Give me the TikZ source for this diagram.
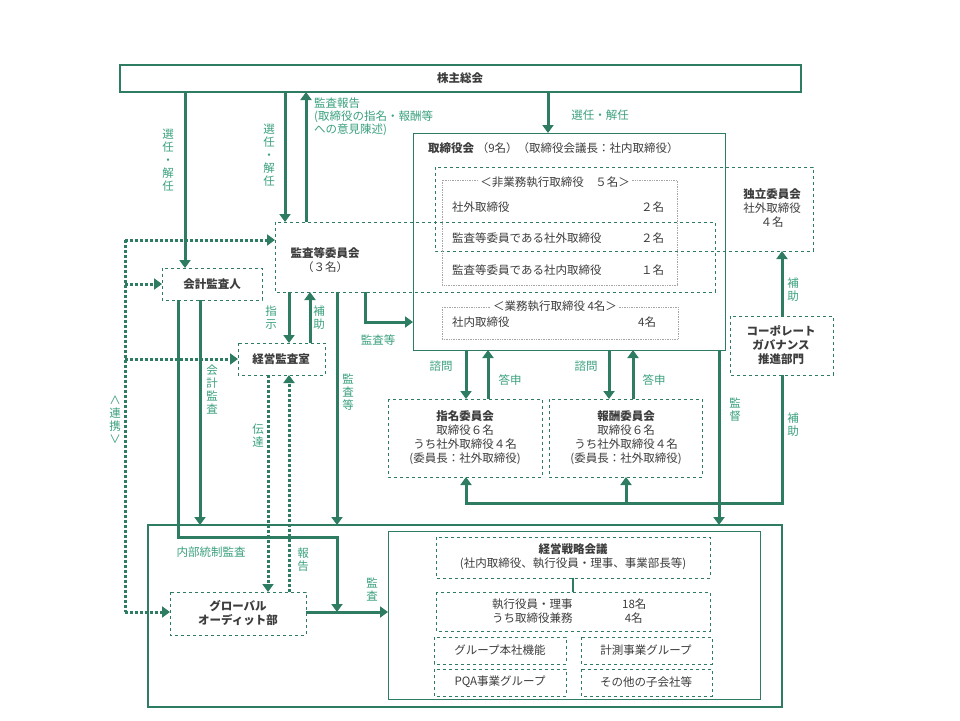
\documentclass[tikz,border=0pt]{standalone}
\usepackage{fontspec}
\setmainfont{Noto Sans CJK JP}
\usetikzlibrary{arrows.meta}
\definecolor{gl}{HTML}{2E7D62}
\definecolor{gt}{HTML}{3AA07E}
\definecolor{tx}{HTML}{3C3C3C}
\tikzset{
 solidbox/.style={draw=gl,line width=1pt},
 thickbox/.style={draw=gl,line width=2pt},
 dbox/.style={draw=gl,dashed,line width=0.7pt},
 dotbox/.style={draw=gray!70,densely dotted,line width=0.7pt},
 arr/.style={draw=gl,line width=3pt,-{Triangle[length=8pt,width=11pt]}},
 ln/.style={draw=gl,line width=3pt},
 darr/.style={draw=gl,line width=3pt,dotted,-{Triangle[length=8pt,width=11pt]}},
 dln/.style={draw=gl,line width=3pt,dotted},
 lab/.style={text=gt,font=\fontsize{11.5}{13}\selectfont,align=center,inner sep=0pt},
 txt/.style={text=tx,font=\fontsize{11.5}{14}\selectfont,align=center,inner sep=0pt},
 btxt/.style={text=tx,font=\fontsize{11.5}{14}\selectfont\bfseries,align=center,inner sep=0pt},
}
\begin{document}
\begin{tikzpicture}[x=1pt,y=-1pt]
\useasboundingbox (0,0) rectangle (960,720);
% boxes
\draw[thickbox] (120,65) rectangle (801,92);
\node[btxt] (sh) at (460,78) {株主総会};
\draw[solidbox] (413,133) rectangle (725,350);
\node[txt,anchor=west] (bd) at (428,148) {\textbf{取締役会}\ （9名）（取締役会議長：社内取締役）};
\draw[dbox] (275,222) rectangle (715,292);
\node[txt] (ac) at (325,260) {\textbf{監査等委員会}\\（３名）};
\draw[dbox] (435,167) rectangle (813,251);
\node[txt] (ind) at (772,208) {\textbf{独立委員会}\\社外取締役\\４名};
\draw[dotbox] (442,180) rectangle (677,285);
\node[txt,fill=white,inner sep=2pt] (ne) at (555,182) {＜非業務執行取締役　５名＞};
\node[txt,anchor=west] (r1) at (452,207) {社外取締役};
\node[txt,anchor=west] (r2) at (452,238) {監査等委員である社外取締役};
\node[txt,anchor=west] (r3) at (452,270) {監査等委員である社内取締役};
\node[txt,anchor=west] at (641,207) {２名};
\node[txt,anchor=west] at (641,238) {２名};
\node[txt,anchor=west] at (641,270) {１名};
\draw[dotbox] (442,307) rectangle (678,339);
\node[txt,fill=white,inner sep=2pt] (ex) at (555,306) {＜業務執行取締役\ 4名＞};
\node[txt,anchor=west] at (452,322) {社内取締役};
\node[txt,anchor=west] at (638,322) {4名};
\draw[dbox] (162,268) rectangle (262,300);
\node[btxt] (aud) at (212,284) {会計監査人};
\draw[dbox] (238,343) rectangle (325,375);
\node[btxt] (ia) at (281,359) {経営監査室};
\draw[dbox] (730,316) rectangle (833,375);
\node[btxt] (cg) at (781,345) {コーポレート\\ガバナンス\\推進部門};
\draw[dbox] (388,399) rectangle (542,477);
\node[txt] (nom) at (465,438) {\textbf{指名委員会}\\取締役６名\\うち社外取締役４名\\(委員長：社外取締役)};
\draw[dbox] (549,399) rectangle (702,477);
\node[txt] (rem) at (626,438) {\textbf{報酬委員会}\\取締役６名\\うち社外取締役４名\\(委員長：社外取締役)};
\draw[thickbox] (148,525) rectangle (782,707);
\draw[solidbox] (388,531) rectangle (760,699);
\draw[dbox] (436,537) rectangle (710,578);
\node[txt] (ms) at (573,557) {\textbf{経営戦略会議}\\(社内取締役、執行役員・理事、事業部長等)};
\draw[dbox] (436,592) rectangle (710,631);
\node[txt,align=left,anchor=west] at (492,611) {執行役員・理事\\うち取締役兼務};
\node[txt,align=left,anchor=west] at (622,611) {18名\\\ 4名};
\draw[dbox] (434,637) rectangle (566,664); \node[txt] at (500,650) {グループ本社機能};
\draw[dbox] (581,637) rectangle (712,664); \node[txt] at (646,650) {計測事業グループ};
\draw[dbox] (434,669) rectangle (566,696); \node[txt] at (500,682) {PQA事業グループ};
\draw[dbox] (581,669) rectangle (712,696); \node[txt] at (646,682) {その他の子会社等};
\draw[dbox] (170,592) rectangle (306,635);
\node[btxt] (ga) at (238,613) {グローバル\\オーディット部};
\draw[ln,line width=2pt] (573,578) -- (573,592);
% arrows
\draw[arr] (185,92) -- (185,268);
\node[lab] at (168,160) {選\\任\\・\\解\\任};
\draw[arr] (285,92) -- (285,222);
\node[lab] at (269,155) {選\\任\\・\\解\\任};
\draw[arr] (306,222) -- (306,92);
\node[lab,align=left,anchor=north west] at (314,98) {監査報告\\(取締役の指名・報酬等\\への意見陳述)};
\draw[arr] (548,92) -- (548,133);
\node[lab] at (600,115) {選任・解任};
\draw[arr] (365,292) -- (365,322) -- (413,322);
\node[lab] at (378,340) {監査等};
\draw[arr] (289,292) -- (289,343);
\draw[arr] (310,343) -- (310,292);
\node[lab] at (271,318) {指\\示};
\node[lab] at (319,318) {補\\助};
\draw[arr] (337,292) -- (337,525);
\node[lab] at (348,392) {監\\査\\等};
\draw[arr] (200,300) -- (200,525);
\node[lab] at (212,390) {会\\計\\監\\査};
\draw[arr] (178,300) -- (178,537) -- (337,537) -- (337,612);
\draw[arr] (306,612) -- (388,612);
\node[lab] at (372,590) {監\\査};
\node[lab] at (211,552) {内部統制監査};
\draw[darr] (268,375) -- (268,592);
\node[lab] at (258,436) {伝\\達};
\draw[darr] (289,592) -- (289,375);
\node[lab] at (303,560) {報\\告};
\draw[dln] (125,240) -- (125,612);
\draw[darr] (125,240) -- (275,240);
\draw[darr] (125,284) -- (162,284);
\draw[darr] (125,359) -- (238,359);
\draw[darr] (125,612) -- (170,612);
\node[lab] at (115,420) {∧\\連\\携\\∨};
\draw[arr] (466,350) -- (466,399);
\draw[arr] (488,399) -- (488,350);
\node[lab] at (441,366) {諮問};
\node[lab] at (510,380) {答申};
\draw[arr] (609,350) -- (609,399);
\draw[arr] (633,399) -- (633,350);
\node[lab] at (586,366) {諮問};
\node[lab] at (654,380) {答申};
\draw[arr] (719,350) -- (719,525);
\node[lab] at (735,410) {監\\督};
\draw[arr] (782,375) -- (782,503) -- (466,503) -- (466,477);
\draw[arr] (626,503) -- (626,477);
\node[lab] at (793,425) {補\\助};
\draw[arr] (782,316) -- (782,251);
\node[lab] at (793,290) {補\\助};
\end{tikzpicture}
\end{document}
